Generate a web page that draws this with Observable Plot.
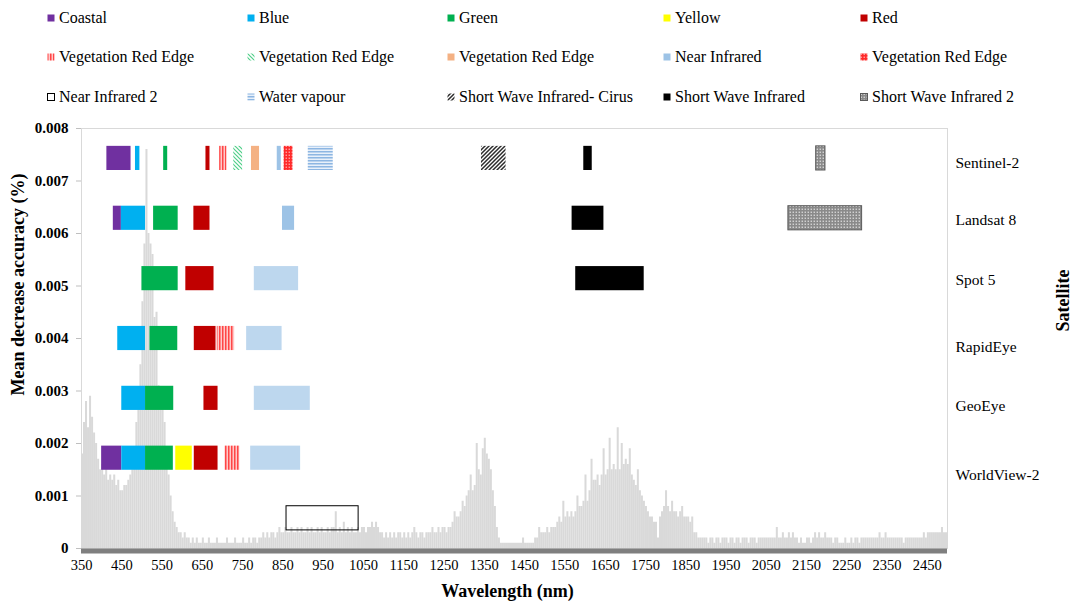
<!DOCTYPE html>
<html>
<head>
<meta charset="utf-8">
<script src="https://cdn.jsdelivr.net/npm/d3@7"></script>
<script src="https://cdn.jsdelivr.net/npm/@observablehq/plot@0.6"></script>
<style>
  body { margin: 0; background: #fff; font-family: "Liberation Serif", "Times New Roman", serif; color: #000; }
  #legend { position: relative; width: 1074px; height: 115px; }
  .item { position: absolute; display: flex; align-items: center; font-size: 16px; white-space: nowrap; transform: translateY(-50%); }
  .item svg { margin-right: 4px; display: block; }
  #chart svg { display: block; }
</style>
</head>
<body>
<svg width="0" height="0" style="position:absolute">
  <defs>
    <pattern id="pVre1" width="3" height="6" patternUnits="userSpaceOnUse">
      <rect width="3" height="6" fill="#ffc9c9"/><rect width="1.5" height="6" fill="#ff4646"/>
    </pattern>
    <pattern id="pVre2" width="4" height="4" patternUnits="userSpaceOnUse">
      <rect width="4" height="4" fill="#ffffff"/>
      <path d="M-1,-1 L5,5 M-1,3 L1,5 M3,-1 L5,1" stroke="#4fcf88" stroke-width="1.2"/>
    </pattern>
    <pattern id="pVre4" width="3" height="3" patternUnits="userSpaceOnUse">
      <rect width="3" height="3" fill="#ff2a2a"/><rect x="0.6" y="0.6" width="1.3" height="1.3" fill="#ffb3b3"/>
    </pattern>
    <pattern id="pWv" width="4" height="3" patternUnits="userSpaceOnUse">
      <rect width="4" height="3" fill="#e8f0fa"/><rect width="4" height="1.5" fill="#8db6e2"/>
    </pattern>
    <pattern id="pCirrus" width="4" height="4" patternUnits="userSpaceOnUse">
      <rect width="4" height="4" fill="#ffffff"/>
      <path d="M-1,1 L1,-1 M0,4 L4,0 M3,5 L5,3" stroke="#2b2b2b" stroke-width="1.5"/>
    </pattern>
    <pattern id="pSwir2" width="3" height="3" patternUnits="userSpaceOnUse">
      <rect width="3" height="3" fill="#8a8a8a"/><rect x="0.6" y="0.6" width="1.3" height="1.3" fill="#e2e2e2"/>
    </pattern>
  </defs>
</svg>
<div id="legend"></div>
<div id="chart"></div>
<script>
// ---------------- data ----------------
const satellites = ["Sentinel-2", "Landsat 8", "Spot 5", "RapidEye", "GeoEye", "WorldView-2"];
// y level (mean decrease accuracy units) of each satellite's band row centre
const satelliteLevel = [0.00743, 0.00629, 0.00514, 0.00400, 0.00286, 0.00172];
// y level of the right-hand satellite labels
const satelliteLabelLevel = [0.00735, 0.00625, 0.00512, 0.00383, 0.00272, 0.00140];
const nir2Level = 0.000575;

// bands: [type, from nm, to nm]
const sentinel2Bands = [
  ["Coastal", 413, 473], ["Blue", 484, 495], ["Green", 554, 564], ["Red", 659, 669],
  ["VRE1", 693, 711], ["VRE2", 728, 750], ["VRE3", 772, 792], ["NIR", 836, 846],
  ["VRE4", 853, 875], ["WV", 913, 975], ["Cirrus", 1343, 1404], ["SWIR", 1597, 1618],
  ["SWIR2", 2174, 2197]
];
const landsat8Bands = [
  ["Coastal", 429, 449], ["Blue", 449, 509], ["Green", 529, 590], ["Red", 629, 669],
  ["NIR", 849, 879], ["SWIR", 1568, 1647], ["SWIR2", 2105, 2288]
];
const spot5Bands = [
  ["Green", 500, 590], ["Red", 609, 679], ["NIRw", 779, 889], ["SWIR", 1577, 1747]
];
const rapidEyeBands = [
  ["Blue", 440, 509], ["Green", 520, 589], ["Red", 630, 684], ["VRE1", 687, 730], ["NIRw", 760, 848]
];
const geoEyeBands = [
  ["Blue", 450, 509], ["Green", 509, 579], ["Red", 654, 689], ["NIRw", 779, 918]
];
const worldView2Bands = [
  ["Coastal", 400, 450], ["Blue", 450, 509], ["Green", 509, 578], ["Yellow", 584, 625],
  ["Red", 630, 689], ["VRE1", 706, 743], ["NIRw", 770, 894], ["NIR2", 859, 1038]
];
const bandLists = [sentinel2Bands, landsat8Bands, spot5Bands, rapidEyeBands, geoEyeBands, worldView2Bands];

// legend entries
const legendKeys = ["Coastal", "Blue", "Green", "Yellow", "Red",
  "VRE1", "VRE2", "VRE3", "NIR", "VRE4",
  "NIR2", "WV", "Cirrus", "SWIR", "SWIR2"];
const legendLabels = ["Coastal", "Blue", "Green", "Yellow", "Red",
  "Vegetation Red Edge", "Vegetation Red Edge", "Vegetation Red Edge", "Near Infrared", "Vegetation Red Edge",
  "Near Infrared 2", "Water vapour", "Short Wave Infrared- Cirus", "Short Wave Infrared", "Short Wave Infrared 2"];

// importance spectrum, 5 nm bins starting at 350 nm, in units of 1e-4
const spectrumStart = 350;
const spectrumStep = 5;
const importanceE4 = [
  /*350*/ 18,24,28,23,29,25,22,20,17,15,
  /*400*/ 16,14,15,13,14,13,14,12,13,11,
  /*450*/ 11,12,12,13,14,15,18,24,30,35,
  /*500*/ 47,58,76,60,58,56,44,45,31,29,
  /*550*/ 27,24,19,14,10,7,5,4,3,3,
  /*600*/ 2,3,2,2,1,2,1,2,1,1,
  /*650*/ 2,1,1,2,1,1,1,2,1,1,
  /*700*/ 1,1,2,1,1,1,2,1,1,1,
  /*750*/ 2,1,1,2,1,2,2,1,2,2,
  /*800*/ 3,2,3,2,3,3,2,3,4,3,
  /*850*/ 3,4,3,3,4,3,3,4,3,4,
  /*900*/ 3,3,4,3,4,3,3,4,3,4,
  /*950*/ 3,3,4,3,4,4,7,3,4,3,
  /*1000*/ 5,3,4,3,4,3,3,4,3,4,
  /*1050*/ 4,3,4,4,5,4,5,4,3,3,
  /*1100*/ 2,3,2,3,2,3,2,3,3,2,
  /*1150*/ 3,2,3,2,3,4,3,2,3,3,
  /*1200*/ 2,3,3,3,4,3,3,4,3,4,
  /*1250*/ 4,3,4,4,5,7,6,6,7,9,
  /*1300*/ 8,10,11,14,11,12,20,15,14,19,
  /*1350*/ 21,18,17,15,11,8,4,2,1,1,
  /*1400*/ 1,1,1,1,1,1,1,1,1,2,
  /*1450*/ 1,1,1,1,1,2,2,4,3,3,
  /*1500*/ 3,4,3,4,4,4,5,6,5,9,
  /*1550*/ 6,7,6,7,6,7,10,8,8,9,
  /*1600*/ 14,9,11,17,13,13,14,12,14,19,
  /*1650*/ 14,15,21,15,16,15,23,15,20,16,
  /*1700*/ 17,16,19,14,13,12,15,11,10,9,
  /*1750*/ 8,7,6,6,5,5,2,6,7,8,
  /*1800*/ 11,8,7,9,7,7,6,7,8,6,
  /*1850*/ 6,6,5,6,3,3,2,2,2,2,
  /*1900*/ 2,1,2,2,1,2,2,1,2,2,
  /*1950*/ 2,1,2,2,1,2,2,1,2,2,
  /*2000*/ 2,1,2,2,2,1,2,2,2,2,
  /*2050*/ 2,2,2,2,2,4,2,2,3,2,
  /*2100*/ 2,3,2,3,2,2,1,2,1,1,
  /*2150*/ 2,2,1,2,3,2,3,2,2,3,
  /*2200*/ 2,2,2,1,2,2,1,1,1,2,
  /*2250*/ 1,1,2,1,2,2,1,2,2,2,
  /*2300*/ 2,2,2,2,2,2,3,2,2,3,
  /*2350*/ 2,2,2,2,2,2,2,2,1,2,
  /*2400*/ 2,2,2,2,2,2,2,2,3,2,
  /*2450*/ 3,3,3,3,3,3,3,4,3,3
];

const xTicks = [350,450,550,650,750,850,950,1050,1150,1250,1350,1450,1550,1650,1750,1850,1950,2050,2150,2250,2350,2450];
const yTicks = [0, 0.001, 0.002, 0.003, 0.004, 0.005, 0.006, 0.007, 0.008];

// ---------------- styles ----------------
const fillOf = {
  Coastal: "#7030a0", Blue: "#00b0f0", Green: "#00b050", Yellow: "#ffff00", Red: "#c00000",
  VRE1: "url(#pVre1)", VRE2: "url(#pVre2)", VRE3: "#f4b183", NIR: "#9dc3e6", NIRw: "#bdd7ee",
  VRE4: "url(#pVre4)", NIR2: "none", WV: "url(#pWv)", Cirrus: "url(#pCirrus)", SWIR: "#000000",
  SWIR2: "url(#pSwir2)"
};
const strokeOf = { NIR2: "#000000", SWIR2: "#5a5a5a" };

// ---------------- tables ----------------
const spectrum = importanceE4.map((v, i) => ({
  x1: spectrumStart + i * spectrumStep,
  x2: spectrumStart + (i + 1) * spectrumStep,
  v: v * 1e-4
}));
const bands = satellites.flatMap((s, i) => bandLists[i].map(([type, from, to]) => ({
  sat: s, type, from, to, level: type === "NIR2" ? nir2Level : satelliteLevel[i]
})));
const half = 0.00023;

// ---------------- legend ----------------
const legendCols = [47, 247, 447, 663, 860];
const legendRows = [18, 57, 97];
const legend = document.getElementById("legend");
legendKeys.forEach((k, i) => {
  const div = document.createElement("div");
  div.className = "item";
  div.style.left = legendCols[i % 5] + "px";
  div.style.top = legendRows[Math.floor(i / 5)] + "px";
  const stroke = strokeOf[k] || "none";
  const fill = k === "NIR2" ? "#ffffff" : fillOf[k];
  div.innerHTML = `<svg width="8" height="8"><rect x="0.5" y="0.5" width="7" height="7" fill="${fill}" stroke="${stroke}" stroke-width="1"/></svg><span>${legendLabels[i]}</span>`;
  legend.appendChild(div);
});

// ---------------- chart ----------------
const chart = Plot.plot({
  width: 1074,
  height: 488,
  marginLeft: 81,
  marginRight: 127,
  marginTop: 13,
  marginBottom: 55,
  x: { domain: [350, 2500], axis: null },
  y: { domain: [0, 0.008], axis: null },
  color: { type: "identity" },
  style: { fontFamily: "Liberation Serif, Times New Roman, serif", fontSize: "15px", color: "#000", background: "#fff" },
  marks: [
    Plot.frame({ stroke: "#d9d9d9" }),
    Plot.rect(spectrum, { x1: "x1", x2: "x2", y1: 0, y2: "v", fill: "#d9d9d9" }),
    Plot.ruleY([0], { stroke: "#7f7f7f", strokeWidth: 5, dy: 2.5 }),
    Plot.axisY({
      ticks: yTicks, tickFormat: d => d === 0 ? "0" : d.toFixed(3),
      tickSize: 5, tickPadding: 8, stroke: "#bfbfbf", fill: "#000",
      fontWeight: "bold", fontSize: 15, label: null
    }),
    Plot.axisX({
      ticks: xTicks, tickFormat: d3.format("d"), tickSize: 0, tickPadding: 11,
      fill: "#000", fontSize: 14.5, label: null
    }),
    Plot.rect(bands, {
      x1: "from", x2: "to",
      y1: d => d.level - half, y2: d => d.level + half,
      fill: d => fillOf[d.type], stroke: d => strokeOf[d.type] || "none", strokeWidth: 1
    }),
    Plot.text(satellites, {
      x: 2500, y: (d, i) => satelliteLabelLevel[i], text: d => d,
      dx: 8, textAnchor: "start", lineAnchor: "middle", fontSize: 15.5, fill: "#000"
    }),
    Plot.text(["Mean decrease accuracy (%)"], {
      text: d => d, frameAnchor: "left", dx: -63, dy: -54, rotate: -90,
      textAnchor: "middle", lineAnchor: "middle",
      fontWeight: "bold", fontSize: 18, fill: "#000"
    }),
    Plot.text(["Wavelength (nm)"], {
      text: d => d, frameAnchor: "bottom", dx: -7, dy: 43,
      textAnchor: "middle", lineAnchor: "middle",
      fontWeight: "bold", fontSize: 18, fill: "#000"
    }),
    Plot.text(["Satellite"], {
      text: d => d, frameAnchor: "right", dx: 116, dy: -38, rotate: -90,
      textAnchor: "middle", lineAnchor: "middle",
      fontWeight: "bold", fontSize: 18, fill: "#000"
    })
  ]
});
document.getElementById("chart").appendChild(chart);
</script>
</body>
</html>
